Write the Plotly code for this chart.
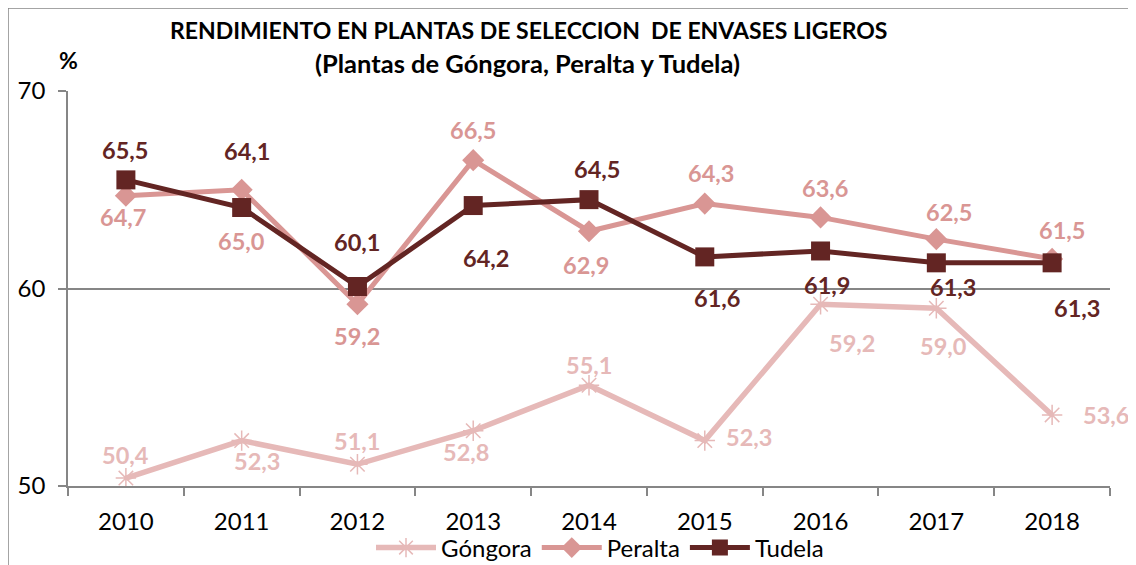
import plotly.graph_objects as go

years = ["2010", "2011", "2012", "2013", "2014", "2015", "2016", "2017", "2018"]
gongora = [50.4, 52.3, 51.1, 52.8, 55.1, 52.3, 59.2, 59.0, 53.6]
peralta = [64.7, 65.0, 59.2, 66.5, 62.9, 64.3, 63.6, 62.5, 61.5]
tudela = [65.5, 64.1, 60.1, 64.2, 64.5, 61.6, 61.9, 61.3, 61.3]
y_ticks = [50, 60, 70]

# label offsets in pixels (dx, dy) -- layout only
off_gongora = [(0, -23), (15, 20), (0, -23), (-7, 21), (0, -20), (44, -4), (31, 39), (7, 38), (54, 0)]
off_peralta = [(-3, 21), (0, 51), (0, 32), (0, -30), (-3, 34), (6, -31), (4, -29), (13, -27), (10, -29)]
off_tudela = [(-1, -30), (5, -57), (0, -45), (13, 52), (8, -31), (12, 41), (6, 34), (17, 24), (25, 45)]

C_G = "#E6B9B8"
C_P = "#D99694"
C_T = "#632523"
FONT = "Lato"

# page has an 8px body margin; figure pixel = screen pixel - 8
OX, OY = 8, 8
L, R, T, B = 68 - OX, 1110 - OX, 91 - OY, 486 - OY
W, H = 1136 - OX, 565 - OY
PW, PH = R - L, B - T


def px(sx):
    return (sx - OX - L) / PW


def py(sy):
    return (B - (sy - OY)) / PH


fig = go.Figure()
fig.add_trace(go.Scatter(x=years, y=gongora, name="Góngora", mode="lines+markers",
                         line=dict(color=C_G, width=5.5),
                         marker=dict(symbol="asterisk-open", size=17, color=C_G,
                                     line=dict(color=C_G, width=1.5))))
fig.add_trace(go.Scatter(x=years, y=peralta, name="Peralta", mode="lines+markers",
                         line=dict(color=C_P, width=5),
                         marker=dict(symbol="diamond", size=17, color=C_P)))
fig.add_trace(go.Scatter(x=years, y=tudela, name="Tudela", mode="lines+markers",
                         line=dict(color=C_T, width=5),
                         marker=dict(symbol="square", size=19, color=C_T)))

ann = []
for vals, offs, col in [(gongora, off_gongora, C_G), (peralta, off_peralta, C_P), (tudela, off_tudela, C_T)]:
    for i, (v, (dx, dy)) in enumerate(zip(vals, offs)):
        ann.append(dict(x=i, y=v, xref="x", yref="y", text=f"{v:.1f}".replace(".", ","),
                        showarrow=False, xshift=dx, yshift=-dy, xanchor="center", yanchor="middle",
                        font=dict(family=FONT, size=23.5, color=col, weight="bold")))

ann.append(dict(x=px(528), y=py(30), xref="paper", yref="paper", xanchor="center", yanchor="middle",
                text="RENDIMIENTO EN PLANTAS DE SELECCION  DE ENVASES LIGEROS", showarrow=False,
                font=dict(family=FONT, size=23, color="black", weight="bold")))
ann.append(dict(x=px(527), y=py(63), xref="paper", yref="paper", xanchor="center", yanchor="middle",
                text="(Plantas de Góngora, Peralta y Tudela)", showarrow=False,
                font=dict(family=FONT, size=25.5, color="black", weight="bold")))
ann.append(dict(x=px(68), y=py(60), xref="paper", yref="paper", xanchor="center", yanchor="middle",
                text="%", showarrow=False,
                font=dict(family=FONT, size=23, color="black", weight="bold")))

shapes = [
    dict(type="line", xref="paper", yref="paper", x0=px(8), x1=px(1136),
         y0=py(8), y1=py(8), line=dict(color="#868686", width=1.5)),
    dict(type="line", xref="paper", yref="paper", x0=px(8), x1=px(8),
         y0=py(8), y1=py(565), line=dict(color="#868686", width=1.5)),
]

fig.update_layout(
    width=W, height=H,
    margin=dict(l=L, r=W - R, t=T, b=H - B, autoexpand=False),
    paper_bgcolor="white", plot_bgcolor="white",
    font=dict(family=FONT, size=24, color="black"),
    showlegend=True,
    legend=dict(orientation="h", x=px(600), xanchor="center",
                y=py(548), yanchor="middle",
                font=dict(family=FONT, size=24, color="black"),
                itemwidth=60, tracegroupgap=0, bgcolor="rgba(0,0,0,0)"),
    annotations=ann,
    shapes=shapes,
)
fig.update_xaxes(type="category", range=[-0.5, 8.5], showgrid=False,
                 showline=True, linecolor="#868686", linewidth=1.5,
                 ticks="outside", tickson="boundaries", ticklen=8, tickcolor="#868686",
                 tickwidth=1.5, ticklabelstandoff=13, zeroline=False,
                 tickfont=dict(family=FONT, size=24, color="black"))
fig.update_yaxes(range=[50, 70], tickvals=y_ticks, showgrid=True, gridcolor="#868686", gridwidth=1.5,
                 showline=True, linecolor="#868686", linewidth=1.5,
                 ticks="outside", ticklen=8, tickcolor="#868686", tickwidth=1.5,
                 ticklabelstandoff=8, zeroline=False,
                 tickfont=dict(family=FONT, size=24, color="black"))

fig.write_html("out.html")
